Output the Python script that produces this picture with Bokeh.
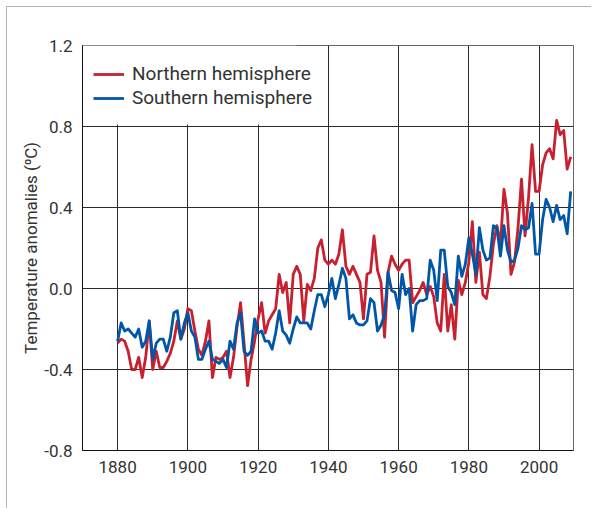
from bokeh.plotting import figure
from bokeh.models import ColumnDataSource, Legend, LegendItem, BoxAnnotation, FixedTicker, Range1d
from bokeh.models import CustomJSTickFormatter
from bokeh.embed import file_html
from bokeh.resources import INLINE

years = list(range(1880, 2010))

northern = [
    -0.27, -0.25, -0.26, -0.31, -0.40, -0.40, -0.34, -0.44, -0.34, -0.16,
    -0.40, -0.31, -0.39, -0.39, -0.36, -0.32, -0.26, -0.16, -0.25, -0.20,
    -0.10, -0.11, -0.21, -0.30, -0.33, -0.26, -0.16, -0.44, -0.34, -0.35,
    -0.34, -0.31, -0.44, -0.34, -0.19, -0.07, -0.27, -0.48, -0.35, -0.26,
    -0.15, -0.07, -0.22, -0.16, -0.13, -0.10, 0.07, -0.02, 0.03, -0.17,
    0.07, 0.11, 0.07, -0.16, 0.02, -0.01, 0.05, 0.20, 0.24, 0.14,
    0.12, 0.14, 0.12, 0.17, 0.29, 0.11, 0.07, 0.11, 0.07, 0.03,
    -0.15, 0.07, 0.08, 0.26, 0.09, 0.03, -0.24, 0.08, 0.16, 0.12,
    0.09, 0.12, 0.14, 0.14, -0.07, -0.04, -0.01, 0.03, -0.03, 0.01,
    -0.04, -0.17, -0.21, 0.07, -0.21, -0.08, -0.25, 0.04, -0.03, 0.03,
    0.13, 0.33, 0.03, 0.18, -0.03, -0.05, 0.06, 0.22, 0.31, 0.22,
    0.49, 0.37, 0.07, 0.13, 0.30, 0.54, 0.26, 0.45, 0.71, 0.48,
    0.48, 0.61, 0.67, 0.69, 0.64, 0.83, 0.76, 0.78, 0.59, 0.65,
]

southern = [
    -0.26, -0.17, -0.21, -0.20, -0.22, -0.24, -0.20, -0.29, -0.26, -0.16,
    -0.35, -0.27, -0.25, -0.25, -0.31, -0.24, -0.12, -0.11, -0.25, -0.17,
    -0.12, -0.21, -0.24, -0.35, -0.35, -0.30, -0.26, -0.35, -0.36, -0.37,
    -0.35, -0.39, -0.26, -0.30, -0.17, -0.12, -0.31, -0.33, -0.31, -0.15,
    -0.22, -0.21, -0.26, -0.26, -0.30, -0.22, -0.11, -0.21, -0.23, -0.27,
    -0.20, -0.14, -0.17, -0.17, -0.17, -0.20, -0.11, -0.03, -0.03, -0.09,
    -0.03, 0.05, -0.05, 0.02, 0.10, 0.05, -0.15, -0.13, -0.17, -0.18,
    -0.18, -0.16, -0.05, -0.07, -0.21, -0.18, -0.13, 0.08, -0.01, -0.02,
    -0.10, 0.07, -0.03, 0.00, -0.21, -0.08, -0.06, -0.06, -0.05, 0.14,
    0.09, -0.06, 0.19, 0.19, 0.01, -0.02, -0.08, 0.16, 0.06, 0.12,
    0.25, 0.17, 0.07, 0.30, 0.19, 0.14, 0.15, 0.31, 0.30, 0.16,
    0.31, 0.19, 0.13, 0.14, 0.20, 0.31, 0.29, 0.30, 0.42, 0.17,
    0.17, 0.34, 0.44, 0.40, 0.33, 0.41, 0.34, 0.36, 0.27, 0.48,
]

x_ticks = [1880, 1900, 1920, 1940, 1960, 1980, 2000]
y_ticks = [-0.8, -0.4, 0.0, 0.4, 0.8, 1.2]
series_labels = ["Northern hemisphere", "Southern hemisphere"]
y_label = "Temperature anomalies (⁰C)"

RED = "#c8202e"
BLUE = "#0057a8"
TEXT = "#333333"
FONT = "Roboto"

p = figure(width=585, height=502, output_backend="svg", toolbar_location=None,
           x_range=Range1d(1870, 2009.8), y_range=Range1d(-0.8, 1.2),
           min_border_left=75, min_border_right=19, min_border_top=38, min_border_bottom=59)
p.margin = (6, 0, 0, 6)
p.styles = {"border-top": "1px solid #b4b4b4", "border-left": "1px solid #b4b4b4"}

p.background_fill_color = "white"
p.border_fill_color = "white"
p.outline_line_color = "#666666"
p.outline_line_width = 1

p.xaxis.ticker = FixedTicker(ticks=x_ticks)
p.yaxis.ticker = FixedTicker(ticks=y_ticks)
p.yaxis.formatter = CustomJSTickFormatter(code="return tick.toFixed(1)")

for ax in (p.xaxis[0], p.yaxis[0]):
    ax.major_tick_in = 0
    ax.major_tick_out = 0
    ax.minor_tick_in = 0
    ax.minor_tick_out = 0
    ax.axis_line_color = "#111111"
    ax.axis_line_width = 1
    ax.major_label_text_font = FONT
    ax.major_label_text_font_size = "17px"
    ax.major_label_text_color = TEXT
    ax.major_label_standoff = 10

p.yaxis.axis_label = y_label
p.yaxis.axis_label_text_font = FONT
p.yaxis.axis_label_text_font_size = "17px"
p.yaxis.axis_label_text_font_style = "normal"
p.yaxis.axis_label_text_color = TEXT
p.yaxis.axis_label_standoff = 0

p.xgrid.ticker = FixedTicker(ticks=x_ticks)
p.ygrid.ticker = FixedTicker(ticks=y_ticks)
p.grid.grid_line_color = "#2a2a2a"
p.grid.grid_line_width = 1

cover = BoxAnnotation(right=1931, bottom=0.81, fill_color="white", fill_alpha=1.0,
                      line_color=None, level="underlay")
p.add_layout(cover)

src = ColumnDataSource(dict(year=years, nh=northern, sh=southern))
r_n = p.line("year", "nh", source=src, line_color=RED, line_width=2.8, line_join="round")
r_s = p.line("year", "sh", source=src, line_color=BLUE, line_width=2.8, line_join="round")

legend = Legend(items=[LegendItem(label=series_labels[0], renderers=[r_n]),
                       LegendItem(label=series_labels[1], renderers=[r_s])],
                location=(11, 341), padding=0, margin=0, spacing=1,
                glyph_width=31, glyph_height=22, label_height=22, label_standoff=8,
                label_text_font=FONT, label_text_font_size="19px", label_text_color=TEXT,
                border_line_color=None, background_fill_alpha=0)
p.add_layout(legend)

open("out.html", "w").write(file_html(p, INLINE))
